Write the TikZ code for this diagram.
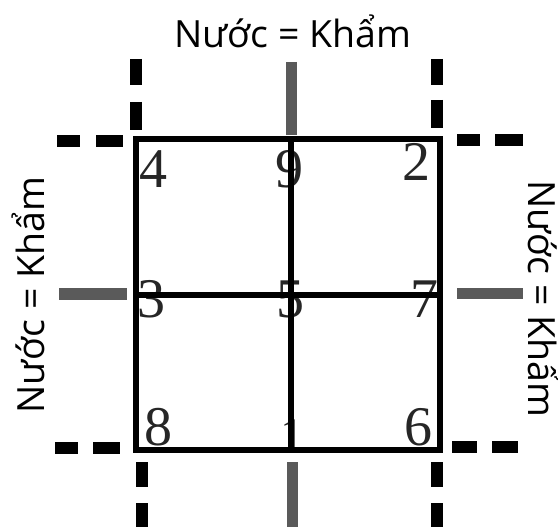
\documentclass[tikz,border=0pt]{standalone}
\usepackage{fontspec}
\setmainfont{Liberation Serif}
\newfontfamily\labelfont{Open Sans}
\definecolor{numcol}{HTML}{262626}
\definecolor{barcol}{HTML}{5A5A5A}
\begin{document}
\begin{tikzpicture}[x=1pt,y=-1pt,
  gridline/.style={line width=6.5pt},
  dseg/.style={line width=12pt, black},
  gbar/.style={line width=11pt, barcol},
  digit/.style={font=\fontsize{56}{56}\selectfont, text=numcol, inner sep=0pt, anchor=base},
  lbl/.style={font=\labelfont\fontsize{37.5}{40}\selectfont, inner sep=0pt, anchor=base}]
\useasboundingbox[fill=white] (0,0) rectangle (558,527);
% hidden digit behind the middle line
\node[digit, font=\fontsize{48}{48}\selectfont] (d1) at (292,451) {1};
% digits
\node[digit, anchor=base west] (d4) at (139,187) {4};
\node[digit] (d9) at (289,187) {9};
\node[digit, anchor=base east] (d2) at (431,181) {2};
\node[digit, anchor=base west] (d3) at (137,317) {3};
\node[digit] (d5) at (290,317) {5};
\node[digit, anchor=base east] (d7) at (439,317) {7};
\node[digit, anchor=base west] (d8) at (144,445) {8};
\node[digit, anchor=base east] (d6) at (433,445) {6};
% grid
\draw[gridline] (136,139) rectangle (440,450);
\draw[gridline] (291,139) -- (291,450);
\draw[gridline] (136,295) -- (440,295);
% top
\draw[dseg] (136,59) -- (136,85) (136,102) -- (136,130);
\draw[gbar] (291,62) -- (291,135);
\draw[dseg] (437,59) -- (437,85) (437,100) -- (437,128);
\draw[dseg] (57,141) -- (80,141) (96,141) -- (123,141);
\draw[dseg] (457,140) -- (480,140) (495,140) -- (523,140);
% middle
\draw[gbar, line width=12pt] (59,294) -- (127,294);
\draw[gbar] (457,293) -- (523,293);
% bottom
\draw[dseg] (55,448) -- (78,448) (93,448) -- (120,448);
\draw[dseg] (452,447) -- (477,447) (492,447) -- (518,447);
\draw[dseg] (142,462) -- (142,487) (142,503) -- (142,532);
\draw[gbar] (292,462) -- (292,532);
\draw[dseg] (437,462) -- (437,487) (437,503) -- (437,532);
% labels
\node[lbl] (ltop) at (293,48) {Nước = Khẩm};
\node[lbl, rotate=90] (lleft) at (45,295) {Nước = Khẩm};
\node[lbl, rotate=-90] (lright) at (528,299) {Nước = Khẩm};
\end{tikzpicture}
\end{document}
